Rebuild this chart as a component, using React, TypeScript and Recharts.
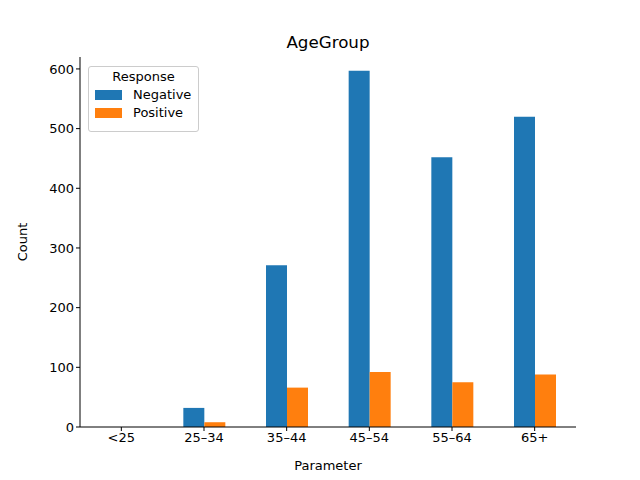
import React from 'react';
import { BarChart, Bar, XAxis, YAxis } from 'recharts';

const categories = ['<25', '25–34', '35–44', '45–54', '55–64', '65+'];
const negative = [0, 32, 271, 597, 452, 520];
const positive = [0, 8, 66, 92, 75, 88];
const yTicks = [0, 100, 200, 300, 400, 500, 600];

const data = categories.map((c, i) => ({ name: c, Negative: negative[i], Positive: positive[i] }));
const font = 'DejaVu Sans, sans-serif';
const tickStyle = { fontSize: 13, fill: '#000', fontFamily: font };

export default function App() {
  return (
    <div style={{ position: 'absolute', left: 0, top: 0, width: 640, height: 480, background: '#fff', fontFamily: font }}>
      <BarChart width={640} height={480} data={data} margin={{ top: 57, right: 64, left: 0, bottom: 0 }} barCategoryGap="25%" barGap={0}>
        <XAxis dataKey="name" height={53} tick={tickStyle} stroke="#000" tickSize={4} tickLine={{ stroke: '#000' }}
          label={{ value: 'Parameter', position: 'insideBottom', offset: 10, style: { fontSize: 13, fill: '#000', fontFamily: font } }} />
        <XAxis xAxisId="top" orientation="top" dataKey="name" height={0} tick={false} tickLine={false} stroke="#000" />
        <YAxis width={80} domain={[0, 620]} ticks={yTicks} tick={tickStyle} stroke="#000" tickSize={4}
          label={{ value: 'Count', angle: -90, position: 'insideLeft', offset: 22, style: { fontSize: 13, fill: '#000', fontFamily: font, textAnchor: 'middle' } }} />
        <YAxis yAxisId="right" orientation="right" width={0} tick={false} tickLine={false} stroke="#000" />
        <Bar dataKey="Negative" fill="#1f77b4" isAnimationActive={false} />
        <Bar dataKey="Positive" fill="#ff7f0e" isAnimationActive={false} />
      </BarChart>
      <div style={{ position: 'absolute', left: 0, top: 32, width: 656, textAlign: 'center', fontSize: 16.7 }}>AgeGroup</div>
      <div style={{ position: 'absolute', left: 88, top: 66, width: 109, height: 64, border: '1px solid #ccc', borderRadius: 3, fontSize: 13, background: '#fff' }}>
        <div style={{ textAlign: 'center', marginTop: 2 }}>Response</div>
        {[['Negative', '#1f77b4'], ['Positive', '#ff7f0e']].map(([n, c]) => (
          <div key={n} style={{ display: 'flex', alignItems: 'center', marginLeft: 6, marginTop: 3 }}>
            <span style={{ width: 27, height: 10, background: c, display: 'inline-block', marginRight: 11 }} />
            {n}
          </div>
        ))}
      </div>
    </div>
  );
}
